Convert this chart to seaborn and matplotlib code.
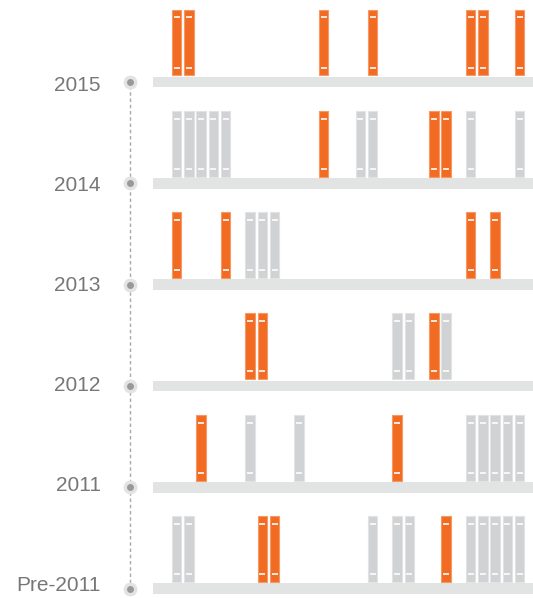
import pandas as pd
import seaborn as sns
import matplotlib.pyplot as plt

# shelves top -> bottom, slot index of every book on that shelf
years = ["2015", "2014", "2013", "2012", "2011", "Pre-2011"]
orange_2015 = [0, 1, 12, 16, 24, 25, 28]
gray_2015 = []
orange_2014 = [12, 21, 22]
gray_2014 = [0, 1, 2, 3, 4, 15, 16, 24, 28]
orange_2013 = [0, 4, 24, 26]
gray_2013 = [6, 7, 8]
orange_2012 = [6, 7, 21]
gray_2012 = [18, 19, 22]
orange_2011 = [2, 18]
gray_2011 = [6, 10, 24, 25, 26, 27, 28]
orange_pre = [7, 8, 22]
gray_pre = [0, 1, 16, 18, 19, 24, 25, 26, 27, 28]

orange_books = [orange_2015, orange_2014, orange_2013, orange_2012, orange_2011, orange_pre]
gray_books = [gray_2015, gray_2014, gray_2013, gray_2012, gray_2011, gray_pre]

rows = []
for i, yr in enumerate(years):
    level = len(years) - 1 - i
    for s in orange_books[i]:
        rows.append({"year": yr, "level": level, "slot": s, "kind": "orange"})
    for s in gray_books[i]:
        rows.append({"year": yr, "level": level, "slot": s, "kind": "gray"})
books = pd.DataFrame(rows)

sns.set_theme(style="white")
plt.rcParams['font.family'] = ['Liberation Sans', 'DejaVu Sans']

ORANGE = "#F26B23"
GRAY = "#D1D2D4"
SHELF = "#E2E3E3"

fig = plt.figure(figsize=(5.33, 5.98), dpi=100)
ax = fig.add_axes([0, 0, 1, 1])

book_h = 0.651
gap = 0.013
shelf_h = 0.105
book_w = 0.78

# shelves
levels = list(range(len(years)))
ax.barh([l - shelf_h / 2 for l in levels], width=31, left=-1.93, height=shelf_h,
        color=SHELF, edgecolor="none", zorder=1)

# books
for kind, col, edge in [("orange", ORANGE, "#F59A66"), ("gray", GRAY, "#E2E3E4")]:
    sub = books[books.kind == kind]
    ax.bar(sub.slot, book_h, bottom=sub.level + gap, width=book_w,
           color=col, edgecolor=edge, linewidth=0.8, zorder=2)

# little white marks on each spine
marks = pd.concat([
    books.assign(y=books.level + gap + 0.078),
    books.assign(y=books.level + gap + book_h - 0.077),
])
sns.scatterplot(data=marks, x="slot", y="y", marker="_", s=20, linewidth=1.3,
                color="white", alpha=0.9, ax=ax, zorder=3, legend=False)

# timeline on the left
tl_x = -3.81
dots = pd.DataFrame({"x": [tl_x] * len(levels), "y": [l - shelf_h / 2 for l in levels]})
ax.plot([tl_x, tl_x], [dots.y.min(), dots.y.max()], color="#A8A8A8", lw=1,
        ls=(0, (2.5, 2)), zorder=1)
sns.scatterplot(data=dots, x="x", y="y", s=100, color="#E3E3E3", linewidth=0,
                ax=ax, zorder=2, legend=False)
sns.scatterplot(data=dots, x="x", y="y", s=25, color="#999999", linewidth=0,
                ax=ax, zorder=3, legend=False)

# year labels sit on a slightly tighter spacing than the shelves
for i, yr in enumerate(years):
    level = len(years) - 1 - i
    ax.text(-6.2, level - 0.141 + 0.0138 * i, yr, ha="right", va="baseline",
            fontsize=15, color="#777777")

ax.set_xlim(-14.42, 29.09)
ax.set_ylim(-0.145, 5.758)
ax.axis("off")

fig.savefig("out.png", dpi=100)
